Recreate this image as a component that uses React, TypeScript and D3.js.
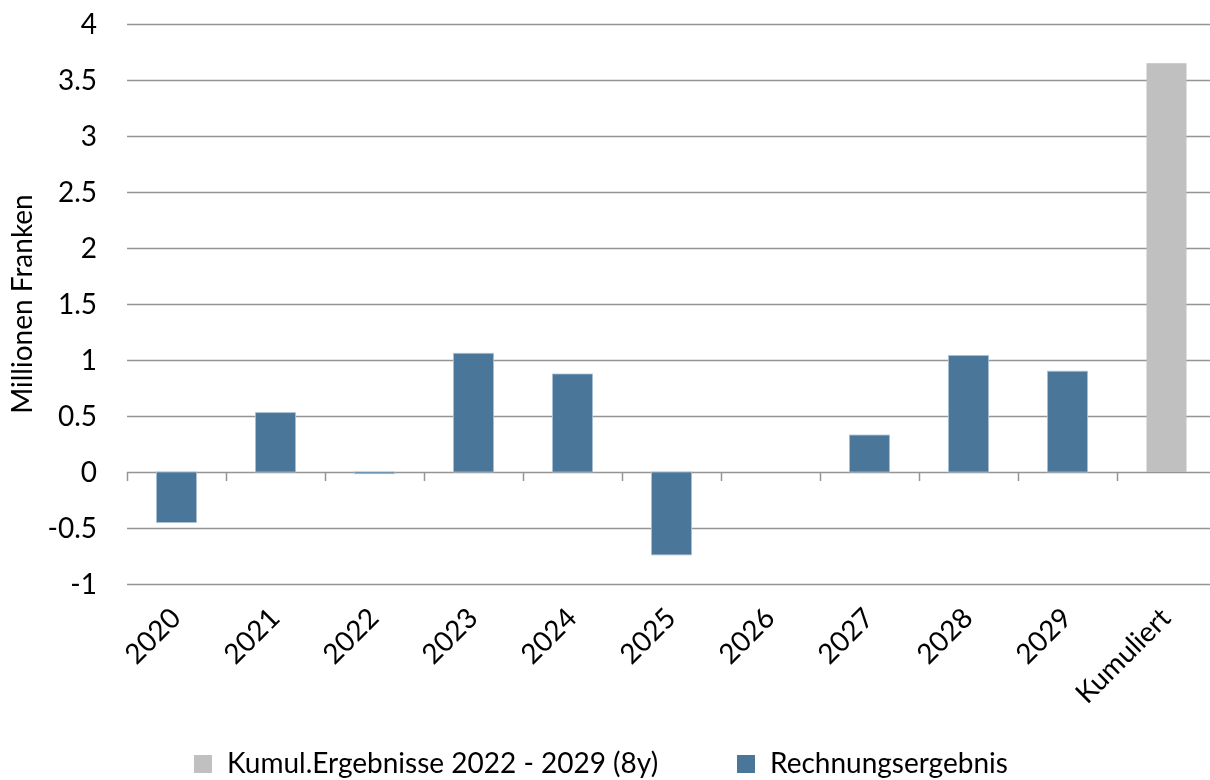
import * as React from "react";
import * as d3 from "d3";

const categories = ["2020", "2021", "2022", "2023", "2024", "2025", "2026", "2027", "2028", "2029", "Kumuliert"];
const rechnungsergebnis = [-0.45, 0.53, -0.015, 1.06, 0.875, -0.74, 0, 0.33, 1.04, 0.9, null];
const kumuliert = [null, null, null, null, null, null, null, null, null, null, 3.65];
const yTicks = [-1, -0.5, 0, 0.5, 1, 1.5, 2, 2.5, 3, 3.5, 4];

const legendItems = [
    { name: "Kumul.Ergebnisse 2022 - 2029 (8y)", color: "#c0c0c0", x: 194 },
    { name: "Rechnungsergebnis", color: "#4a7799", x: 737 }
];

class ErgebnisChart extends React.Component {
    _rootNode: any;

    componentDidMount() {
        this.drawChart();
    }

    drawChart() {
        const options = {
            width: 1210,
            height: 780,
            left: 127,
            right: 1216,
            top: 24,
            bottom: 584,
            font: "Lato, 'Open Sans', sans-serif",
            fontSize: "28px"
        };

        const xScale = d3.scaleBand().domain(categories).range([options.left, options.right]);
        const yScale = d3.scaleLinear().domain([-1, 4]).range([options.bottom, options.top]);
        const barWidth = 40;

        const svg = d3.select(this._rootNode)
            .append("svg")
            .attr("width", options.width)
            .attr("height", options.height)
            .style("display", "block")
            .style("font-family", options.font);

        // gridlines
        svg.append("g")
            .selectAll("line")
            .data(yTicks)
            .enter()
            .append("line")
            .attr("x1", options.left)
            .attr("x2", options.width)
            .attr("y1", d => Math.round(yScale(d)) + 0.5)
            .attr("y2", d => Math.round(yScale(d)) + 0.5)
            .style("stroke", "#959595")
            .style("stroke-width", 1.5);

        // y tick labels
        svg.append("g")
            .selectAll("text")
            .data(yTicks)
            .enter()
            .append("text")
            .attr("x", 97)
            .attr("y", d => yScale(d))
            .attr("dy", "0.35em")
            .attr("text-anchor", "end")
            .style("font-size", options.fontSize)
            .style("fill", "#000")
            .text(d => String(d));

        // y axis title
        svg.append("text")
            .attr("transform", "translate(32," + yScale(1.5) + ") rotate(-90)")
            .attr("text-anchor", "middle")
            .style("font-size", options.fontSize)
            .text("Millionen Franken");

        // category boundary ticks on zero line
        const boundaries = categories.map(c => xScale(c)).concat([options.right]);
        svg.append("g")
            .selectAll("line")
            .data(boundaries)
            .enter()
            .append("line")
            .attr("x1", d => Math.round(d) + 0.5)
            .attr("x2", d => Math.round(d) + 0.5)
            .attr("y1", yScale(0))
            .attr("y2", yScale(0) + 9)
            .style("stroke", "#959595")
            .style("stroke-width", 1.5);

        const drawBars = (values, color) => {
            const data = categories.map((c, i) => ({ c, v: values[i] })).filter(d => d.v !== null && d.v !== 0);
            svg.append("g")
                .selectAll("rect")
                .data(data)
                .enter()
                .append("rect")
                .attr("x", d => xScale(d.c) + (xScale.bandwidth() - barWidth) / 2)
                .attr("width", barWidth)
                .attr("y", d => yScale(Math.max(0, d.v)))
                .attr("height", d => Math.abs(yScale(d.v) - yScale(0)))
                .style("fill", color)
                .style("stroke", color === "#4a7799" ? "#a9c1d4" : "none")
                .style("stroke-width", 0.8);
        };
        drawBars(kumuliert, "#c0c0c0");
        drawBars(rechnungsergebnis, "#4a7799");

        // x labels
        svg.append("g")
            .selectAll("text")
            .data(categories)
            .enter()
            .append("text")
            .attr("transform", d => "translate(" + (xScale(d) + xScale.bandwidth() / 2 - 8) + ",606) rotate(-45)")
            .attr("text-anchor", "end")
            .attr("dy", "0.7em")
            .style("font-size", options.fontSize)
            .text(d => d);

        // legend
        const legend = svg.append("g");
        legend.selectAll("rect")
            .data(legendItems)
            .enter()
            .append("rect")
            .attr("x", d => d.x)
            .attr("y", 755)
            .attr("width", 18)
            .attr("height", 18)
            .style("fill", d => d.color);
        legend.selectAll("text")
            .data(legendItems)
            .enter()
            .append("text")
            .attr("x", d => d.x + 33)
            .attr("y", 773)
            .style("font-size", options.fontSize)
            .text(d => d.name);
    }

    shouldComponentUpdate() {
        return false;
    }

    _setRef(componentNode) {
        this._rootNode = componentNode;
    }

    render() {
        return <div ref={this._setRef.bind(this)} style={{ position: "fixed", left: 0, top: 0 }} />;
    }
}

export default function App() {
    return <ErgebnisChart />;
}
